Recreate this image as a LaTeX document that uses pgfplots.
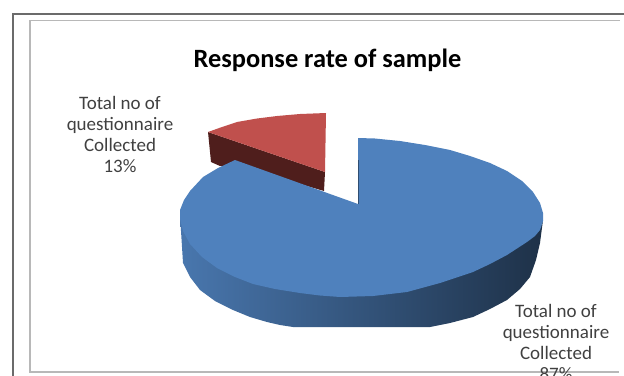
\documentclass[border=0pt]{standalone}
\usepackage{fontspec}
\setmainfont{Carlito}
\usepackage{pgfplots}
\pgfplotsset{compat=1.18}
\definecolor{blue1}{HTML}{4F81BD}
\definecolor{red1}{HTML}{C0504D}
\definecolor{red2}{HTML}{4F1E1C}
\definecolor{lab}{HTML}{404040}

\begin{document}
\begin{tikzpicture}
\useasboundingbox (0,0) rectangle (624bp,376bp);
\begin{axis}[
	at={(0,0)},anchor=south west,
	scale only axis,
	width=624bp,height=376bp,
	xmin=0,xmax=624,ymin=0,ymax=376,
	y dir=reverse,
	hide axis,
	clip=false,
	]
	% frames
	\addplot[draw=black!58,line width=1.8bp] coordinates {(13,376) (13,14) (624,14)};
	\addplot[draw=black!28,line width=1.6bp] coordinates {(620,20.5) (30,20.5) (30,372) (619,372)};

	% blue side
	\addplot[draw=none,left color=blue1!92!black,middle color=blue1!55!black,right color=blue1!38!black] coordinates {
		(180,215) (183,263) (190,277) (200,290) (215,301) (233,310) (250,317) (267,322) (280,325) (293,327)
		(430,327) (450,323) (473,317) (490,309) (507,300) (520,289) (530,277) (536,260) (540,243) (543,220)} -- cycle;
	% red side
	\addplot[draw=none,fill=red2] coordinates {(208,132) (325,172) (324,191) (235,165) (220,166) (211,162)} -- cycle;
	% red top
	\addplot[draw=none,fill=red1] coordinates {(325,172) (326,113) (300,114) (277,116) (257,118.5) (237,122) (222,127) (208,132)} -- cycle;
	% blue top
	\addplot[draw=none,fill=blue1] coordinates {
		(358,204) (358,138) (375,138.5) (400,141) (425,145) (450,150) (470,156) (490,163) (507,171) (522,181) (533,192) (540,203) (543,213) (543,221)
		(540,230) (535,236) (527,242) (507,255) (490,264) (473,272) (440,283) (407,292) (373,296) (340,297)
		(320,295.5) (300,293) (275,289) (253,284) (235,277) (217,268) (202,257) (190,244) (183,231) (180,219) (180,210) (184,200) (190,191) (203,177) (218,168) (235,160)} -- cycle;
	\addplot[draw=blue1!60!black,line width=0.6bp] coordinates {(358,160) (358,204)};

	\node[font=\fontsize{26.4bp}{30bp}\selectfont\bfseries,text=black] at (axis cs:327.5,60) {Response rate of sample};
	\node[font=\fontsize{19bp}{21bp}\selectfont,text=lab,align=center] at (axis cs:120,134) {Total no of\\questionnaire\\Collected\\13\%};
	\node[font=\fontsize{19bp}{21bp}\selectfont,text=lab,align=center] at (axis cs:556,342) {Total no of\\questionnaire\\Collected\\87\%};
\end{axis}
\end{tikzpicture}
\end{document}
